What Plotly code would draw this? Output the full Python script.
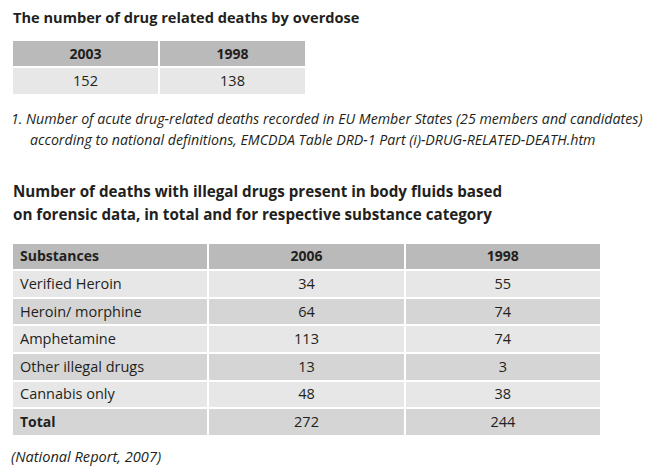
import plotly.graph_objects as go

W, H = 670, 474
OFF = 8  # page body margin

# ---- data ----
t1_years = ["2003", "1998"]
t1_values = [152, 138]

t2_header = ["Substances", "2006", "1998"]
substances = ["Verified Heroin", "Heroin/ morphine", "Amphetamine",
              "Other illegal drugs", "Cannabis only"]
deaths_2006 = [34, 64, 113, 13, 48]
deaths_1998 = [55, 74, 74, 3, 38]
total_label = "Total"
total_2006 = 272
total_1998 = 244

title1 = "The number of drug related deaths by overdose"
footnote = ["1. Number of acute drug-related deaths recorded in EU Member States (25 members and candidates)",
            "according to national definitions, EMCDDA Table DRD-1 Part (i)-DRUG-RELATED-DEATH.htm"]
title2 = ["Number of deaths with illegal drugs present in body fluids based",
          "on forensic data, in total and for respective substance category"]
source = "(National Report, 2007)"

FONT = "Open Sans"
TXT = "#231f20"
HDR = "#bababa"
LIGHT = "#e7e7e7"
DARK = "#d5d5d5"
ROWH1 = 27.3
ROWH2 = 27.6
CELL_SIZE = 14.5
HDR_SIZE = 14

def px_x(p):
    return (p - OFF) / W

def px_y(p):
    return 1 - (p - OFF) / H

fig = go.Figure()

# Table 1
fig.add_trace(go.Table(
    domain=dict(x=[px_x(12), px_x(306)], y=[px_y(100), px_y(40)]),
    columnwidth=[1, 1],
    header=dict(values=t1_years,
                fill_color=HDR, line=dict(color="white", width=2),
                align="center", height=ROWH1,
                font=dict(family=FONT, size=HDR_SIZE, color=TXT, weight=700)),
    cells=dict(values=[[v] for v in t1_values],
               fill_color=LIGHT, line=dict(color="white", width=2),
               align="center", height=ROWH1,
               font=dict(family=FONT, size=CELL_SIZE, color=TXT)),
))

# Table 2 (header + substance rows)
n = len(substances)
row_fill = [LIGHT if i % 2 == 0 else DARK for i in range(n)]
top2 = 242.5
total_top = top2 + (n + 1) * ROWH2
fig.add_trace(go.Table(
    domain=dict(x=[px_x(12), px_x(601)], y=[px_y(total_top + 1), px_y(top2)]),
    columnwidth=[1, 1, 1],
    header=dict(values=t2_header,
                fill_color=HDR, line=dict(color="white", width=2),
                align=["left", "center", "center"], height=ROWH2,
                font=dict(family=FONT, size=HDR_SIZE, color=TXT, weight=700)),
    cells=dict(values=[substances, deaths_2006, deaths_1998],
               fill_color=[row_fill] * 3, line=dict(color="white", width=2),
               align=["left", "center", "center"], height=ROWH2,
               font=dict(family=FONT, size=CELL_SIZE, color=TXT)),
))

# Table 2 total row
fig.add_trace(go.Table(
    domain=dict(x=[px_x(12), px_x(601)], y=[px_y(total_top + ROWH2 + 4), px_y(total_top)]),
    columnwidth=[1, 1, 1],
    header=dict(values=[total_label, total_2006, total_1998],
                fill_color=DARK, line=dict(color="white", width=2),
                align=["left", "center", "center"], height=ROWH2,
                font=dict(family=FONT, size=[HDR_SIZE, CELL_SIZE, CELL_SIZE],
                          color=TXT, weight=[700, 400, 400])),
))

ann = []
def add_text(text, x, y, size, bold=False, italic=False):
    t = text
    if bold:
        t = f"<b>{t}</b>"
    if italic:
        t = f"<i>{t}</i>"
    ann.append(dict(text=t, x=px_x(x), y=px_y(y), xref="paper", yref="paper",
                    xanchor="left", yanchor="middle", showarrow=False,
                    font=dict(family=FONT, size=size, color=TXT)))

add_text(title1, 11, 17, 14.6, bold=True)
add_text(footnote[0], 9, 118, 14.2, italic=True)
add_text(footnote[1], 28, 140, 14.2, italic=True)
add_text(title2[0], 11, 191, 15.2, bold=True)
add_text(title2[1], 11, 214, 15.2, bold=True)
add_text(source, 9, 456, 14.6, italic=True)

fig.update_layout(width=W, height=H, margin=dict(l=0, r=0, t=0, b=0),
                  paper_bgcolor="white", plot_bgcolor="white",
                  annotations=ann)

fig.write_html("out.html")
